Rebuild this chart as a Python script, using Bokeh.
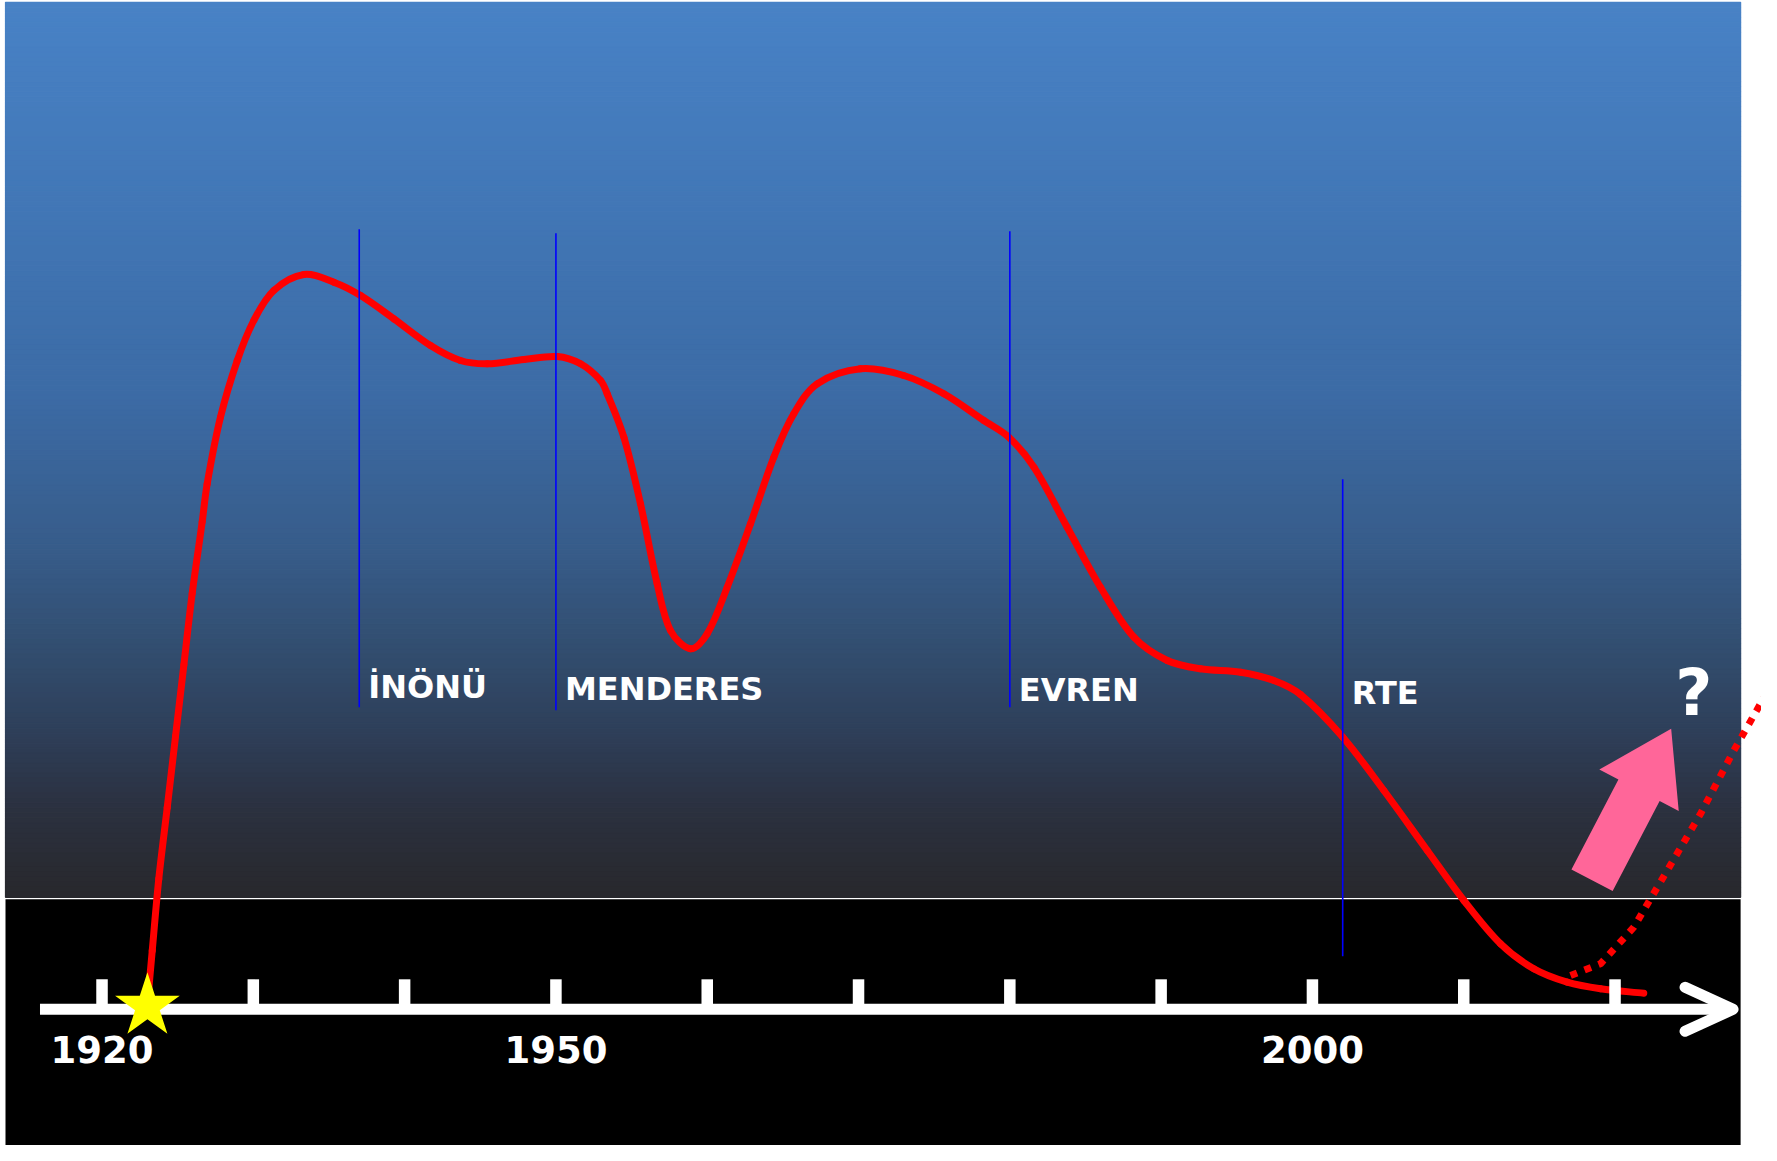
import numpy as np
from bokeh.plotting import figure
from bokeh.models import Range1d
from bokeh.core.properties import value
from bokeh.embed import file_html
from bokeh.resources import INLINE

# ---------------- data ----------------
trend_years = [1923.0, 1923.32, 1923.75, 1924.31, 1924.86, 1925.41, 1925.96, 1926.62, 1926.95, 1927.83,
               1928.94, 1930.03, 1931.35, 1933.34, 1935.32, 1937.09, 1939.29, 1941.71, 1943.69, 1945.46,
               1947.88, 1950.09, 1951.63, 1952.95, 1953.39, 1954.49, 1955.59, 1956.69, 1957.57, 1958.90,
               1960.00, 1961.32, 1962.86, 1964.40, 1965.72, 1967.27, 1970.13, 1972.99, 1975.64, 1978.28,
               1979.93, 1981.59, 1983.79, 1985.99, 1988.20, 1990.40, 1992.60, 1995.25, 1997.45, 1999.21,
               2002.01, 2004.72, 2007.59, 2010.01, 2012.43, 2014.63, 2016.84, 2019.04, 2021.90]
trend_levels = [0.5, 5.88, 13.02, 20.18, 27.31, 34.45, 41.59, 48.74, 52.55, 59.21,
                64.88, 68.88, 71.88, 73.48, 72.71, 71.38, 69.05, 66.38, 64.88, 64.55,
                64.98, 65.28, 64.55, 62.88, 61.55, 57.21, 50.55, 42.55, 37.88, 36.05,
                37.55, 42.21, 48.55, 55.21, 59.55, 62.55, 64.05, 63.38, 61.55, 58.88,
                57.21, 54.21, 48.21, 42.21, 37.21, 34.88, 34.05, 33.71, 32.88, 31.48,
                27.21, 21.88, 15.88, 10.88, 6.55, 4.05, 2.71, 2.05, 1.61]

forecast_years = [2017.06, 2019.04, 2021.24, 2023.45, 2025.65, 2027.85, 2029.61, 2030.40]
forecast_levels = [3.38, 4.55, 8.21, 13.88, 19.55, 25.88, 30.55, 32.58]

leader_names = ["İNÖNÜ", "MENDERES", "EVREN", "RTE"]
leader_years = [1937, 1950, 1980, 2002]

tick_years = [1920, 1930, 1940, 1950, 1960, 1970, 1980, 1990, 2000, 2010, 2020]
label_years = [1920, 1950, 2000]
label_texts = ["1920", "1950", "2000"]

start_year = 1923
question_text = "?"

# ---------------- layout / style ----------------
W, H = 1761, 1145
X0, X1 = 1913.29, 2029.68
Y0, Y1 = -13.62, 100.88
kx = W / (X1 - X0)   # px per year
ky = H / (Y1 - Y0)   # px per level unit

marker_top = [78.0, 77.6, 77.8, 53.0]
marker_bottom = [30.2, 29.9, 30.2, 5.3]
leader_label_base = [32.2, 32.0, 31.9, 31.6]

panel_left, panel_right = 1913.62, 2028.3
grad_top, grad_bottom = 100.7, 11.2
black_top = 11.0

axis_start, axis_end = 1915.9, 2027.8
tick_height = 3.0
tick_label_base = -4.0

arrow_tail = (2018.48, 12.91)
arrow_tip = (2023.71, 28.05)
arrow_shaft_px, arrow_head_w_px, arrow_head_len_px = 46.5, 89.6, 69.4
question_pos = (2025.2, 31.6)

FONT = value("DejaVu Sans")

p = figure(width=W, height=H, x_range=Range1d(X0, X1), y_range=Range1d(Y0, Y1),
           output_backend="svg", toolbar_location=None,
           x_axis_type=None, y_axis_type=None, min_border=0,
           background_fill_color="white", border_fill_color="white",
           outline_line_color=None)
p.grid.visible = False

# --- gradient background (vertical) ---
stops_f = [0.0, 0.28, 0.44, 0.61, 0.72, 0.82, 0.90, 1.0]
stops_rgb = [(72, 130, 198), (64, 116, 178), (60, 107, 165), (55, 92, 138),
             (50, 78, 112), (46, 62, 88), (43, 49, 64), (40, 40, 44)]
N = 180
edges = np.linspace(grad_top, grad_bottom, N + 1)
colors = []
for i in range(N):
    f = (i + 0.5) / N
    rgb = [int(round(np.interp(f, stops_f, [c[k] for c in stops_rgb]))) for k in range(3)]
    colors.append("#%02x%02x%02x" % tuple(rgb))
p.quad(left=panel_left, right=panel_right, top=list(edges[:-1]), bottom=list(edges[1:]),
       fill_color=colors, line_color=colors, line_width=1.2)

# --- black lower panel ---
p.quad(left=panel_left, right=panel_right, top=black_top, bottom=Y0 - 5,
       fill_color="black", line_color=None)

# --- red trend curve: smooth (chord-length Catmull-Rom) bezier segments through the read points ---
P = np.column_stack([(np.array(trend_years) - X0) * kx, (np.array(trend_levels) - Y0) * ky])
n = len(P)
t = np.concatenate([[0.0], np.cumsum(np.linalg.norm(np.diff(P, axis=0), axis=1))])
M = np.zeros_like(P)
M[0] = (P[1] - P[0]) / (t[1] - t[0])
M[-1] = (P[-1] - P[-2]) / (t[-1] - t[-2])
M[1:-1] = (P[2:] - P[:-2]) / (t[2:] - t[:-2])[:, None]
dt = np.diff(t)[:, None]
C0 = P[:-1] + M[:-1] * dt / 3.0
C1 = P[1:] - M[1:] * dt / 3.0
to_x = lambda a: X0 + a / kx
to_y = lambda a: Y0 + a / ky
p.bezier(x0=to_x(P[:-1, 0]), y0=to_y(P[:-1, 1]), x1=to_x(P[1:, 0]), y1=to_y(P[1:, 1]),
         cx0=to_x(C0[:, 0]), cy0=to_y(C0[:, 1]), cx1=to_x(C1[:, 0]), cy1=to_y(C1[:, 1]),
         line_color="#FF0000", line_width=7, line_cap="round")

# --- dotted forecast ---
p.line(forecast_years, forecast_levels, line_color="#FF0000", line_width=7,
       line_dash="7 8", line_cap="butt")

# --- leader markers ---
p.segment(x0=leader_years, y0=marker_bottom, x1=leader_years, y1=marker_top,
          line_color="#0000FF", line_width=1.6)

# --- time axis ---
p.segment(x0=[axis_start], y0=[0], x1=[axis_end], y1=[0], line_color="white",
          line_width=11, line_cap="butt")
p.line([axis_end - 48 / kx, axis_end, axis_end - 48 / kx], [22 / ky, 0, -22 / ky],
       line_color="white", line_width=11, line_cap="round", line_join="round")
p.segment(x0=tick_years, y0=0, x1=tick_years, y1=tick_height, line_color="white",
          line_width=11.5, line_cap="butt")

# --- star at the start ---
p.scatter([start_year], [0.3], marker="star", size=68, fill_color="#FFFF00", line_color=None)

# --- pink block arrow ---
tail = np.array([(arrow_tail[0] - X0) * kx, (arrow_tail[1] - Y0) * ky])
tip = np.array([(arrow_tip[0] - X0) * kx, (arrow_tip[1] - Y0) * ky])
d = tip - tail
u = d / np.linalg.norm(d)
nv = np.array([-u[1], u[0]])
base = tip - u * arrow_head_len_px
pts = [tail + nv * arrow_shaft_px / 2, base + nv * arrow_shaft_px / 2, base + nv * arrow_head_w_px / 2,
       tip, base - nv * arrow_head_w_px / 2, base - nv * arrow_shaft_px / 2, tail - nv * arrow_shaft_px / 2]
p.patch([X0 + q[0] / kx for q in pts], [Y0 + q[1] / ky for q in pts],
        fill_color="#FF6699", line_color=None)

# --- texts ---
p.text(x=leader_years, y=leader_label_base, text=leader_names, x_offset=9,
       text_font=FONT, text_font_style="bold", text_font_size="32px", text_color="white",
       text_align="left", text_baseline="alphabetic")
p.text(x=label_years, y=[tick_label_base] * len(label_years), text=label_texts,
       text_font=FONT, text_font_style="bold", text_font_size="37px", text_color="white",
       text_align="center", text_baseline="alphabetic")
p.text(x=[question_pos[0]], y=[question_pos[1]], text=[question_text],
       text_font=FONT, text_font_style="bold", text_font_size="64px", text_color="white",
       text_align="center", text_baseline="alphabetic")

open("out.html", "w").write(file_html(p, INLINE))
